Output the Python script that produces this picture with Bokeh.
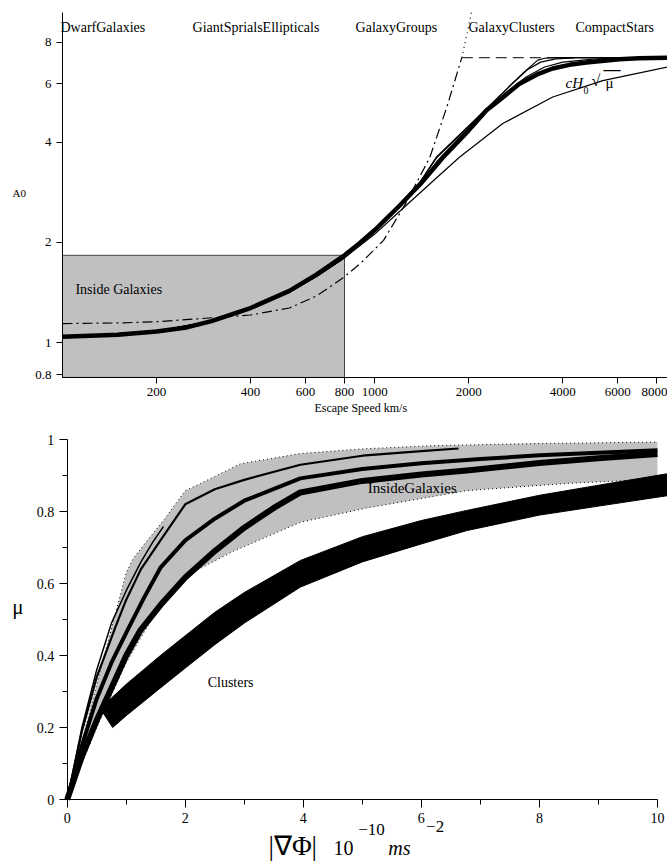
from bokeh.plotting import figure
from bokeh.layouts import column
from bokeh.models import FixedTicker, CustomJSTickFormatter, Label, Range1d
from bokeh.embed import file_html
from bokeh.resources import INLINE

FONT = "Liberation Serif"

# ---------------- Top panel: A0 vs escape speed (km/s) ----------------
v_thick = [100, 150, 200, 250, 300, 400, 533, 650, 800, 900, 1000, 1200, 1400, 1650, 2000, 2280, 2500, 2900, 3300, 3710, 4200, 4760, 6080, 7000, 8660]
a0_thick = [1.04, 1.055, 1.08, 1.11, 1.16, 1.27, 1.43, 1.6, 1.83, 2.0, 2.18, 2.58, 3.0, 3.6, 4.35, 5.0, 5.35, 6.0, 6.4, 6.68, 6.85, 6.96, 7.12, 7.17, 7.2]

v_thin_a = [100, 200, 300, 400, 533, 650, 800, 1000, 1200, 1400, 1573, 2274, 3000, 3328, 3500, 3800, 8660]
a0_thin_a = [1.04, 1.08, 1.16, 1.27, 1.42, 1.58, 1.8, 2.17, 2.6, 3.05, 3.61, 5.05, 6.5, 7.08, 7.17, 7.2, 7.2]

v_thin_b = [100, 200, 300, 400, 533, 650, 800, 1000, 1200, 1400, 1580, 2274, 2750, 3100, 3400, 3800, 4500, 8660]
a0_thin_b = [1.04, 1.08, 1.16, 1.27, 1.42, 1.58, 1.8, 2.17, 2.6, 3.05, 3.6, 5.0, 6.0, 6.65, 6.98, 7.14, 7.2, 7.2]

v_thin_c = [100, 200, 300, 400, 533, 650, 800, 1000, 1200, 1400, 1600, 2274, 2660, 3054, 3500, 4000, 5000, 6000, 8660]
a0_thin_c = [1.04, 1.08, 1.16, 1.27, 1.42, 1.58, 1.8, 2.17, 2.6, 3.02, 3.55, 4.95, 5.7, 6.3, 6.75, 6.98, 7.13, 7.18, 7.2]

v_sqrt_mu = [100, 200, 300, 400, 533, 650, 800, 1000, 1200, 1500, 1867, 2570, 3716, 5373, 8660]
a0_sqrt_mu = [1.04, 1.08, 1.16, 1.27, 1.42, 1.58, 1.8, 2.12, 2.48, 3.0, 3.61, 4.56, 5.48, 6.14, 6.75]

v_dashdot = [100, 150, 200, 277, 400, 533, 650, 788, 900, 1067, 1250, 1500, 1700, 1900]
a0_dashdot = [1.14, 1.145, 1.155, 1.18, 1.21, 1.27, 1.38, 1.56, 1.73, 2.03, 2.6, 3.6, 5.1, 7.2]

v_dotted = [1900, 1980, 2050]
a0_dotted = [7.2, 8.6, 10.1]

v_limit = [1900, 8660]
a0_limit = [7.2, 7.2]

box_v = [100, 800]
box_a0 = [0.785, 1.83]

v_ticks = [200, 400, 600, 800, 1000, 2000, 4000, 6000, 8000]
a0_ticks = [0.8, 1, 2, 4, 6, 8]

# ---------------- Bottom panel: mu vs |grad Phi| ----------------
band_up_x = [0, 0.5, 1.0, 1.12, 1.36, 1.63, 2.0, 2.26, 2.94, 3.95, 5.0, 6.2, 8.0, 10.0]
band_up_mu = [0, 0.32, 0.63, 0.67, 0.72, 0.775, 0.858, 0.878, 0.933, 0.961, 0.974, 0.983, 0.989, 0.993]
band_lo_x = [0, 0.5, 1.0, 1.5, 2.0, 2.82, 3.95, 5.08, 6.77, 8.47, 10.0]
band_lo_mu = [0, 0.2, 0.38, 0.52, 0.62, 0.69, 0.77, 0.81, 0.858, 0.878, 0.89]

short_x = [0, 0.25, 0.5, 0.75, 1.0, 1.25, 1.45, 1.63]
short_mu = [0, 0.2, 0.36, 0.49, 0.58, 0.66, 0.715, 0.758]

long_x = [0, 0.25, 0.5, 0.82, 1.0, 1.25, 1.58, 2.0, 2.5, 3.0, 3.95, 5.0, 6.0, 6.63]
long_mu = [0, 0.19, 0.34, 0.48, 0.555, 0.64, 0.72, 0.82, 0.862, 0.888, 0.93, 0.955, 0.968, 0.975]

med_x = [0, 0.25, 0.5, 0.75, 1.02, 1.3, 1.58, 2.0, 2.5, 3.0, 3.95, 5.0, 6.0, 7.0, 8.0, 9.0, 10.0]
med_mu = [0, 0.15, 0.28, 0.38, 0.47, 0.56, 0.644, 0.72, 0.78, 0.83, 0.892, 0.918, 0.934, 0.946, 0.956, 0.963, 0.97]

thk_x = [0, 0.25, 0.5, 0.75, 1.0, 1.24, 1.58, 2.0, 2.5, 3.0, 3.5, 3.95, 5.0, 6.0, 6.77, 8.0, 9.0, 10.0]
thk_mu = [0, 0.12, 0.22, 0.31, 0.4, 0.47, 0.54, 0.617, 0.69, 0.755, 0.81, 0.853, 0.885, 0.903, 0.914, 0.935, 0.948, 0.96]

cl_up_x = [0.56, 1.0, 1.58, 2.0, 2.5, 3.0, 3.95, 5.0, 6.0, 6.77, 8.0, 9.0, 10.17]
cl_up_mu = [0.253, 0.32, 0.40, 0.455, 0.52, 0.575, 0.664, 0.73, 0.775, 0.803, 0.845, 0.873, 0.905]
cl_lo_x = [0.77, 1.0, 1.58, 2.0, 2.5, 3.0, 3.95, 5.0, 6.0, 6.77, 8.0, 9.0, 10.17]
cl_lo_mu = [0.2, 0.233, 0.31, 0.365, 0.43, 0.49, 0.59, 0.66, 0.71, 0.747, 0.79, 0.815, 0.844]

g_ticks = [0, 2, 4, 6, 8, 10]
g_minor = [1, 3, 5, 7, 9]
mu_ticks = [0, 0.2, 0.4, 0.6, 0.8, 1]
mu_minor = [0.1, 0.3, 0.5, 0.7, 0.9]

fmt = CustomJSTickFormatter(code="return tick.toString();")


def lab(p, x, y, text, size, style="normal", align="left", baseline="middle"):
    p.add_layout(Label(x=x, y=y, text=text, text_font=FONT, text_font_size=f"{size}px",
                       text_font_style=style, text_align=align, text_baseline=baseline,
                       text_color="black"))


def style_axes(p, size, tick_out, minor_out):
    for ax in (p.xaxis, p.yaxis):
        ax.axis_line_color = "black"
        ax.major_tick_line_color = "black"
        ax.minor_tick_line_color = "black"
        ax.major_tick_out = tick_out
        ax.major_tick_in = 0
        ax.minor_tick_out = minor_out
        ax.minor_tick_in = 0
        ax.major_label_text_font = FONT
        ax.major_label_text_font_size = f"{size}px"
        ax.major_label_text_color = "black"
        ax.formatter = fmt


def bare(p):
    p.outline_line_color = None
    p.grid.visible = False
    p.min_border = 0
    p.min_border_left = 0
    p.min_border_right = 0
    p.min_border_top = 0
    p.min_border_bottom = 0


# ---------- top figure ----------
top = figure(width=667, height=428, x_axis_type="log", y_axis_type="log",
             x_range=Range1d(63.3, 8660), y_range=Range1d(0.551, 10.7),
             output_backend="svg", toolbar_location=None)
bare(top)
top.xaxis.ticker = FixedTicker(ticks=v_ticks, minor_ticks=[])
top.yaxis.ticker = FixedTicker(ticks=a0_ticks, minor_ticks=[])
top.xaxis.fixed_location = box_a0[0]
top.yaxis.fixed_location = box_v[0]
top.xaxis.bounds = (100, 8660)
top.yaxis.bounds = (0.785, 9.85)
style_axes(top, 13, 6, 0)

top.quad(left=box_v[0], right=box_v[1], bottom=box_a0[0], top=box_a0[1],
         fill_color="#c0c0c0", line_color="#444444", line_width=1)

top.line(v_dashdot, a0_dashdot, line_color="black", line_width=1.2, line_dash="10 4 2 4")
top.line(v_dotted, a0_dotted, line_color="black", line_width=1.2, line_dash="1 4")
top.line(v_limit, a0_limit, line_color="#333333", line_width=1.3, line_dash="11 6")
for xs, ys in ((v_thin_a, a0_thin_a), (v_thin_b, a0_thin_b), (v_thin_c, a0_thin_c), (v_sqrt_mu, a0_sqrt_mu)):
    top.line(xs, ys, line_color="black", line_width=1.2, line_join="round")
top.line(v_thick, a0_thick, line_color="black", line_width=4.5, line_join="round")

lab(top, 98.5, 8.88, "DwarfGalaxies", 14)
lab(top, 261, 8.88, "GiantSprialsEllipticals", 14)
lab(top, 868, 8.88, "GalaxyGroups", 14)
lab(top, 1996, 8.88, "GalaxyClusters", 14)
lab(top, 4393, 8.88, "CompactStars", 14)
lab(top, 110, 1.444, "Inside Galaxies", 14)
lab(top, 69.2, 2.81, "A0", 11)
lab(top, 641, 0.633, "Escape Speed km/s", 12)
lab(top, 4081, 6.06, "cH", 15, style="italic")
lab(top, 4662, 5.74, "0", 10)
lab(top, 4945, 6.15, "√", 16)
lab(top, 5483, 6.02, "μ", 15)
lab(top, 5400, 6.63, "—", 17, style="bold")

# ---------- bottom figure ----------
bot = figure(width=667, height=433, x_range=Range1d(-1.13, 10.17), y_range=Range1d(-0.1722, 1.0306),
             output_backend="svg", toolbar_location=None)
bare(bot)
bot.xaxis.ticker = FixedTicker(ticks=g_ticks, minor_ticks=g_minor)
bot.yaxis.ticker = FixedTicker(ticks=mu_ticks, minor_ticks=mu_minor)
bot.xaxis.fixed_location = 0
bot.yaxis.fixed_location = 0
bot.xaxis.bounds = (0, 10)
bot.yaxis.bounds = (0, 1)
style_axes(bot, 14, 8, 5)

bot.patch(band_up_x + band_lo_x[::-1], band_up_mu + band_lo_mu[::-1],
          fill_color="#c0c0c0", line_color=None)
bot.line(band_up_x, band_up_mu, line_color="black", line_width=1, line_dash="1 3")
bot.line(band_lo_x, band_lo_mu, line_color="black", line_width=1, line_dash="1 3")

bot.line(short_x, short_mu, line_color="black", line_width=1.5, line_join="round")
bot.line(long_x, long_mu, line_color="black", line_width=2.2, line_join="round")
bot.line(med_x, med_mu, line_color="black", line_width=4, line_join="round")
bot.line(thk_x, thk_mu, line_color="black", line_width=6, line_join="round")

bot.patch(cl_up_x + cl_lo_x[::-1], cl_up_mu + cl_lo_mu[::-1], fill_color="black", line_color="black")

lab(bot, 5.09, 0.864, "InsideGalaxies", 15)
lab(bot, 2.38, 0.325, "Clusters", 14)
lab(bot, -0.93, 0.536, "μ", 21)
lab(bot, 3.41, -0.128, "|∇Φ|", 27)
lab(bot, 4.51, -0.136, "10", 20)
lab(bot, 4.93, -0.083, "−10", 17)
lab(bot, 5.44, -0.136, "ms", 20, style="italic")
lab(bot, 6.08, -0.076, "−2", 17)

page = column(top, bot, spacing=0)
open("out.html", "w").write(file_html(page, INLINE))
